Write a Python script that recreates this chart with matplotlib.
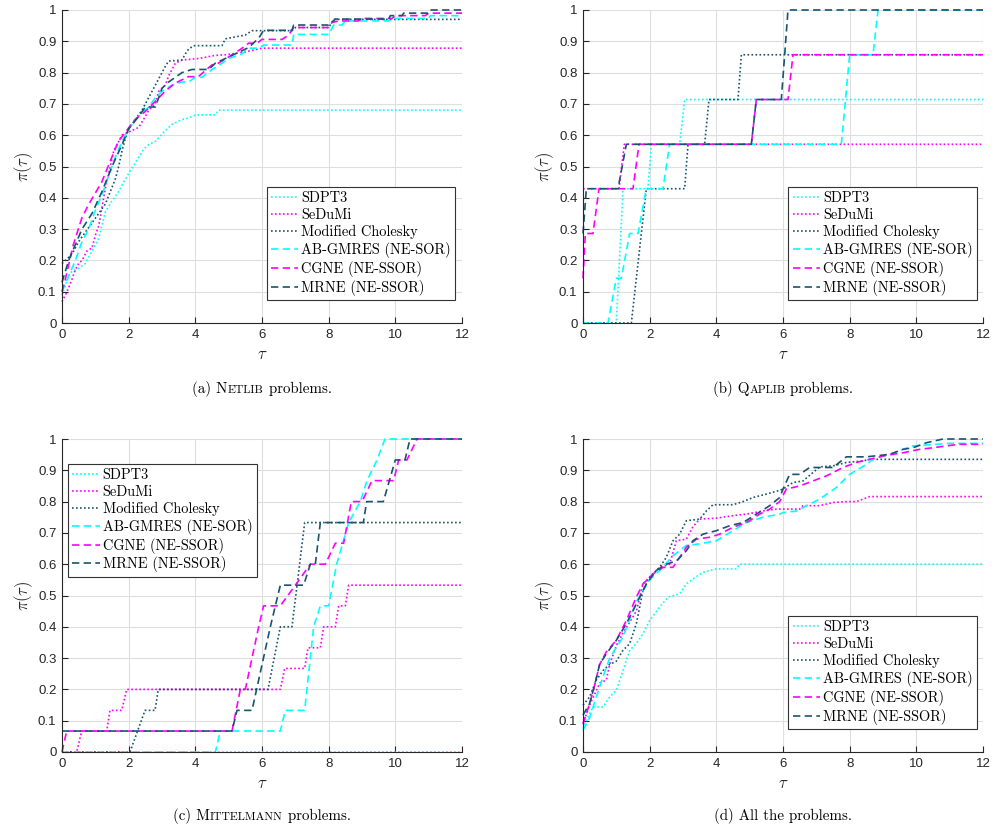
import matplotlib
matplotlib.use("Agg")
import matplotlib.pyplot as plt
from matplotlib.offsetbox import TextArea, HPacker, AnnotationBbox

plt.rcParams["mathtext.fontset"] = "cm"

# ---------------- data: (tau, rho) points
solvers = ["SDPT3", "SeDuMi", "Modified Cholesky",
           "AB-GMRES (NE-SOR)", "CGNE (NE-SSOR)", "MRNE (NE-SSOR)"]

# (a) Netlib
netlib_sdpt3 = [(0, 0.09), (0.1, 0.12), (0.2, 0.15), (0.3, 0.165), (0.5, 0.175), (0.7, 0.19),
                (0.9, 0.23), (1.1, 0.27), (1.3, 0.355), (1.5, 0.39), (1.7, 0.42), (1.9, 0.46),
                (2.1, 0.495), (2.3, 0.53), (2.45, 0.555), (2.6, 0.57), (2.8, 0.58), (3.1, 0.615),
                (3.3, 0.635), (3.6, 0.65), (3.8, 0.655), (4.0, 0.665), (4.6, 0.665), (4.7, 0.68),
                (12, 0.68)]
netlib_sedumi = [(0, 0.068), (0.15, 0.1), (0.3, 0.14), (0.4, 0.17), (0.5, 0.19), (0.6, 0.2),
                 (0.75, 0.23), (0.9, 0.24), (1.0, 0.28), (1.1, 0.31), (1.2, 0.37), (1.3, 0.43),
                 (1.45, 0.5), (1.55, 0.55), (1.7, 0.58), (1.8, 0.6), (2.0, 0.61), (2.3, 0.625),
                 (2.5, 0.66), (2.6, 0.68), (2.8, 0.7), (2.9, 0.74), (3.1, 0.76), (3.2, 0.79),
                 (3.4, 0.83), (3.6, 0.84), (4.1, 0.845), (4.6, 0.855), (4.9, 0.857), (5.5, 0.866),
                 (6.0, 0.878), (12, 0.878)]
netlib_cholesky = [(0, 0.19), (0.2, 0.21), (0.35, 0.23), (0.5, 0.26), (0.7, 0.29), (0.9, 0.32),
                   (1.1, 0.35), (1.3, 0.38), (1.45, 0.42), (1.6, 0.46), (1.7, 0.5), (1.8, 0.55),
                   (1.9, 0.59), (2.0, 0.62), (2.2, 0.65), (2.4, 0.68), (2.5, 0.7), (2.6, 0.72),
                   (2.75, 0.75), (2.9, 0.78), (3.0, 0.8), (3.1, 0.82), (3.2, 0.837), (3.6, 0.84),
                   (3.7, 0.86), (3.8, 0.875), (3.95, 0.886), (4.8, 0.886), (4.9, 0.908), (5.5, 0.92),
                   (5.7, 0.934), (6.9, 0.934), (7.0, 0.944), (8.0, 0.944), (8.15, 0.97), (12, 0.97)]
netlib_abgmres = [(0, 0.1), (0.2, 0.15), (0.4, 0.2), (0.6, 0.26), (0.8, 0.3), (1.0, 0.36),
                  (1.2, 0.41), (1.4, 0.47), (1.6, 0.53), (1.8, 0.58), (2.0, 0.62), (2.2, 0.65),
                  (2.4, 0.67), (2.6, 0.69), (2.8, 0.72), (3.0, 0.74), (3.3, 0.76), (3.6, 0.77),
                  (3.8, 0.77), (4.0, 0.785), (4.2, 0.785), (4.5, 0.81), (4.8, 0.83), (5.0, 0.845),
                  (5.4, 0.86), (5.6, 0.878), (5.9, 0.878), (6.05, 0.888), (6.9, 0.888), (6.95, 0.922),
                  (8.0, 0.922), (8.15, 0.952), (8.4, 0.952), (8.5, 0.965), (9.8, 0.965), (9.9, 0.973),
                  (11.0, 0.973), (11.05, 0.982), (12, 0.982)]
netlib_cgne = [(0, 0.1), (0.1, 0.14), (0.34, 0.25), (0.59, 0.334), (0.79, 0.377), (1.19, 0.45),
               (1.69, 0.58), (2.19, 0.65), (2.49, 0.675), (2.79, 0.707), (3.09, 0.74), (3.39, 0.766),
               (3.79, 0.787), (4.09, 0.787), (4.49, 0.824), (4.69, 0.83), (5.09, 0.856), (5.39, 0.877),
               (5.6, 0.894), (5.85, 0.894), (6.0, 0.906), (6.6, 0.906), (6.8, 0.92), (6.95, 0.944),
               (8.0, 0.944), (8.1, 0.96), (8.3, 0.965), (8.9, 0.965), (9.0, 0.973), (9.9, 0.973),
               (10.0, 0.982), (10.9, 0.982), (11.0, 0.99), (12, 0.99)]
netlib_mrne = [(0, 0.13), (0.2, 0.2), (0.4, 0.25), (0.6, 0.3), (0.9, 0.35), (1.2, 0.42), (1.5, 0.5),
               (1.8, 0.57), (2.0, 0.62), (2.3, 0.66), (2.5, 0.69), (2.8, 0.69), (3.0, 0.75),
               (3.2, 0.77), (3.6, 0.8), (3.9, 0.81), (4.4, 0.81), (4.6, 0.83), (5.2, 0.86), (5.6, 0.88),
               (5.9, 0.91), (6.05, 0.935), (6.9, 0.935), (6.95, 0.952), (8.0, 0.952), (8.2, 0.971),
               (9.8, 0.971), (9.85, 0.982), (10.2, 0.982), (10.25, 0.99), (11.0, 0.99), (11.05, 1.0),
               (12, 1.0)]

# (b) Qaplib
qaplib_sdpt3 = [(0, 0), (1.0, 0), (1.2, 0.429), (1.95, 0.429), (2.05, 0.571), (2.9, 0.571),
                (3.05, 0.714), (12, 0.714)]
qaplib_sedumi = [(0, 0.429), (1.08, 0.429), (1.24, 0.571), (12, 0.571)]
qaplib_cholesky = [(0, 0), (1.45, 0), (1.9, 0.429), (3.05, 0.429), (3.15, 0.571), (3.65, 0.571),
                   (3.78, 0.714), (4.65, 0.714), (4.75, 0.857), (12, 0.857)]
qaplib_abgmres = [(0, 0), (0.75, 0), (1.0, 0.143), (1.15, 0.143), (1.4, 0.286), (1.65, 0.286),
                  (1.9, 0.429), (2.4, 0.429), (2.6, 0.571), (7.75, 0.571), (8.0, 0.857),
                  (8.7, 0.857), (8.85, 1.0), (12, 1.0)]
qaplib_cgne = [(0, 0.143), (0.07, 0.286), (0.3, 0.286), (0.48, 0.429), (1.5, 0.429), (1.68, 0.571),
               (5.05, 0.571), (5.2, 0.714), (6.15, 0.714), (6.3, 0.857), (12, 0.857)]
qaplib_mrne = [(0, 0.286), (0.1, 0.429), (1.05, 0.429), (1.3, 0.571), (5.05, 0.571), (5.2, 0.714),
               (5.95, 0.714), (6.15, 1.0), (12, 1.0)]

# (c) Mittelmann
mittel_sdpt3 = [(0, 0), (12, 0)]
mittel_sedumi = [(0, 0), (0.44, 0), (0.59, 0.067), (1.34, 0.067), (1.44, 0.133), (1.79, 0.133),
                 (1.94, 0.2), (6.55, 0.2), (6.68, 0.267), (7.28, 0.267), (7.38, 0.333), (7.75, 0.333),
                 (7.85, 0.4), (8.2, 0.4), (8.3, 0.467), (8.5, 0.467), (8.6, 0.533), (12, 0.533)]
mittel_cholesky = [(0, 0), (2.04, 0), (2.49, 0.133), (2.79, 0.133), (2.89, 0.2), (6.18, 0.2),
                   (6.55, 0.4), (6.9, 0.4), (7.28, 0.733), (12, 0.733)]
mittel_abgmres = [(0, 0), (4.6, 0), (4.75, 0.067), (6.55, 0.067), (6.7, 0.133), (7.28, 0.133),
                  (7.55, 0.4), (7.75, 0.467), (8.0, 0.467), (8.24, 0.6), (8.6, 0.733), (8.95, 0.8),
                  (9.15, 0.867), (9.45, 0.933), (9.69, 1.0), (12, 1.0)]
mittel_cgne = [(0, 0), (0.14, 0.067), (5.1, 0.067), (5.35, 0.2), (5.5, 0.2), (5.9, 0.4),
               (6.05, 0.467), (6.55, 0.467), (7.0, 0.533), (7.45, 0.6), (7.9, 0.6), (8.2, 0.667),
               (8.45, 0.667), (8.68, 0.8), (9.0, 0.8), (9.3, 0.867), (9.95, 0.867), (10.1, 0.933),
               (10.35, 0.933), (10.65, 1.0), (12, 1.0)]
mittel_mrne = [(0, 0.067), (5.1, 0.067), (5.25, 0.133), (5.7, 0.133), (6.25, 0.4), (6.55, 0.533),
               (7.25, 0.533), (7.45, 0.6), (7.6, 0.6), (7.75, 0.733), (9.04, 0.733), (9.14, 0.8),
               (9.64, 0.8), (10.0, 0.933), (10.29, 0.933), (10.44, 1.0), (12, 1.0)]

# (d) all problems
all_sdpt3 = [(0, 0.075), (0.1, 0.1), (0.3, 0.144), (0.6, 0.144), (0.8, 0.176), (1.0, 0.197),
             (1.2, 0.26), (1.4, 0.325), (1.6, 0.346), (1.8, 0.378), (2.0, 0.42), (2.3, 0.463),
             (2.55, 0.495), (2.9, 0.505), (3.1, 0.537), (3.3, 0.553), (3.6, 0.574), (4.0, 0.585),
             (4.6, 0.585), (4.7, 0.6), (12, 0.6)]
all_sedumi = [(0, 0.09), (0.2, 0.15), (0.5, 0.22), (0.7, 0.23), (0.8, 0.28), (1.0, 0.34),
              (1.2, 0.38), (1.6, 0.45), (1.8, 0.537), (2.1, 0.57), (2.3, 0.59), (2.6, 0.6),
              (2.8, 0.675), (3.1, 0.68), (3.3, 0.72), (3.5, 0.744), (4.0, 0.747), (4.5, 0.755),
              (4.9, 0.76), (5.4, 0.77), (5.8, 0.776), (6.5, 0.776), (6.6, 0.787), (7.1, 0.787),
              (7.5, 0.797), (7.9, 0.8), (8.2, 0.8), (8.6, 0.816), (12, 0.816)]
all_cholesky = [(0, 0.15), (0.2, 0.176), (0.4, 0.23), (0.6, 0.26), (0.8, 0.28), (1.0, 0.29),
                (1.2, 0.325), (1.4, 0.346), (1.6, 0.41), (1.8, 0.516), (2.0, 0.558), (2.3, 0.59),
                (2.5, 0.622), (2.7, 0.675), (2.9, 0.696), (3.1, 0.739), (3.5, 0.744), (3.7, 0.77),
                (3.9, 0.79), (4.5, 0.79), (4.8, 0.8), (5.1, 0.813), (5.5, 0.824), (5.9, 0.836),
                (6.0, 0.84), (6.3, 0.861), (6.6, 0.866), (7.1, 0.911), (7.5, 0.914), (7.9, 0.925),
                (8.4, 0.93), (8.6, 0.935), (12, 0.935)]
all_abgmres = [(0, 0.07), (0.2, 0.11), (0.4, 0.176), (0.6, 0.24), (0.8, 0.3), (1.2, 0.367),
               (1.6, 0.48), (2.0, 0.55), (2.3, 0.58), (2.7, 0.627), (3.1, 0.66), (3.5, 0.665),
               (4.0, 0.675), (4.5, 0.707), (4.9, 0.733), (5.4, 0.75), (5.9, 0.76), (6.0, 0.765),
               (6.4, 0.77), (7.1, 0.808), (7.6, 0.845), (8.0, 0.887), (8.5, 0.919), (8.7, 0.935),
               (9.2, 0.951), (9.6, 0.967), (9.9, 0.978), (10.6, 0.983), (11.0, 0.986), (12, 0.986)]
all_cgne = [(0, 0.09), (0.2, 0.155), (0.34, 0.21), (0.5, 0.28), (0.7, 0.32), (1.0, 0.357),
            (1.3, 0.42), (1.6, 0.495), (1.8, 0.537), (2.1, 0.569), (2.4, 0.59), (2.7, 0.59),
            (2.9, 0.622), (3.1, 0.654), (3.4, 0.68), (3.8, 0.686), (4.1, 0.696), (4.5, 0.718),
            (4.9, 0.733), (5.3, 0.76), (5.6, 0.776), (5.9, 0.8), (6.1, 0.84), (6.5, 0.85),
            (6.9, 0.866), (7.3, 0.882), (7.8, 0.909), (8.2, 0.925), (8.6, 0.935), (9.0, 0.946),
            (9.6, 0.956), (10.1, 0.967), (10.5, 0.972), (10.9, 0.978), (11.3, 0.983), (12, 0.983)]
all_mrne = [(0, 0.118), (0.2, 0.155), (0.34, 0.21), (0.5, 0.28), (0.7, 0.314), (1.0, 0.357),
            (1.3, 0.41), (1.6, 0.473), (1.9, 0.537), (2.2, 0.58), (2.5, 0.6), (2.8, 0.61),
            (3.1, 0.643), (3.3, 0.675), (3.6, 0.696), (4.0, 0.707), (4.4, 0.723), (4.8, 0.733),
            (5.2, 0.76), (5.6, 0.787), (5.9, 0.813), (6.0, 0.84), (6.2, 0.887), (6.5, 0.887),
            (6.8, 0.909), (7.5, 0.909), (7.9, 0.943), (8.5, 0.943), (9.2, 0.951), (9.6, 0.967),
            (9.9, 0.972), (10.3, 0.988), (10.8, 1.0), (12, 1.0)]

x_ticks = [0, 2, 4, 6, 8, 10, 12]
y_ticks = [0, 0.1, 0.2, 0.3, 0.4, 0.5, 0.6, 0.7, 0.8, 0.9, 1]

# ---------------- styles
CYAN = "#00ffff"
MAGENTA = "#ff00ff"
DARK = "#17556e"
AXC = "#262626"
styles = [(CYAN, ":"), (MAGENTA, ":"), (DARK, ":"), (CYAN, "--"), (MAGENTA, "--"), (DARK, "--")]

fig = plt.figure(figsize=(9.92, 8.33), dpi=100)
W, H = 992, 833


def add_panel(left, top, curves, legend_loc, legend_anchor):
    ax = fig.add_axes([left / W, 1 - (top + 313) / H, 400 / W, 313 / H])
    for pts, (col, ls), name in zip(curves, styles, solvers):
        tau = [p[0] for p in pts]
        rho = [p[1] for p in pts]
        line, = ax.plot(tau, rho, color=col, lw=1.2, label=name, clip_on=False)
        if ls == ":":
            line.set_dashes([1.0, 1.4])
        else:
            line.set_dashes([4.4, 2.6])
    ax.set_xlim(0, 12)
    ax.set_ylim(0, 1)
    ax.set_xticks(x_ticks)
    ax.set_yticks(y_ticks)
    ax.set_xticklabels([str(t) for t in x_ticks])
    ax.set_yticklabels([f"{t:g}" for t in y_ticks])
    ax.grid(True, color="#dedede", lw=0.8)
    ax.set_axisbelow(True)
    for s in ["top", "right"]:
        ax.spines[s].set_visible(False)
    for s in ["left", "bottom"]:
        ax.spines[s].set_color(AXC)
        ax.spines[s].set_linewidth(0.8)
    ax.tick_params(direction="in", length=4, width=0.8, color=AXC, labelcolor=AXC,
                   labelsize=9.5, pad=4)
    for lab in ax.get_xticklabels() + ax.get_yticklabels():
        lab.set_fontfamily("Liberation Sans")
    ax.set_xlabel(r"$\tau$", fontsize=12, color=AXC, va="center")
    ax.xaxis.set_label_coords(0.5, -0.1)
    ax.set_ylabel(r"$\pi(\tau)$", fontsize=12, color=AXC, va="center")
    ax.yaxis.set_label_coords(-0.095, 0.5)
    leg = ax.legend(loc=legend_loc, bbox_to_anchor=legend_anchor, prop={"family": "cmr10", "size": 10.4},
                    frameon=True, fancybox=False, framealpha=1, edgecolor="#333333",
                    handlelength=1.9, handletextpad=0.2, labelspacing=0.2, borderpad=0.3,
                    borderaxespad=0)
    leg.get_frame().set_linewidth(0.8)
    return ax


def caption(xc, yc, pre, caps, post):
    big = dict(fontfamily="cmr10", fontsize=10.8, color="black")
    small = dict(fontfamily="cmr10", fontsize=8.4, color="black")
    parts = [TextArea(pre, textprops=big)]
    if caps:
        parts.append(TextArea(caps, textprops=small))
    parts.append(TextArea(post, textprops=big))
    box = HPacker(children=parts, align="baseline", pad=0, sep=0)
    ab = AnnotationBbox(box, (xc / W, 1 - yc / H), xycoords="figure fraction", frameon=False,
                        box_alignment=(0.5, 0.5), pad=0)
    fig.add_artist(ab)


add_panel(62, 10, [netlib_sdpt3, netlib_sedumi, netlib_cholesky, netlib_abgmres, netlib_cgne, netlib_mrne],
          "lower right", (0.983, 0.073))
add_panel(583, 10, [qaplib_sdpt3, qaplib_sedumi, qaplib_cholesky, qaplib_abgmres, qaplib_cgne, qaplib_mrne],
          "lower right", (0.985, 0.073))
add_panel(62, 439, [mittel_sdpt3, mittel_sedumi, mittel_cholesky, mittel_abgmres, mittel_cgne, mittel_mrne],
          "upper left", (0.015, 0.92))
add_panel(583, 439, [all_sdpt3, all_sedumi, all_cholesky, all_abgmres, all_cgne, all_mrne],
          "lower right", (0.985, 0.073))

caption(262, 389, "(a) N", "ETLIB", " problems.")
caption(783, 389, "(b) Q", "APLIB", " problems.")
caption(262, 816, "(c) M", "ITTELMANN", " problems.")
caption(783, 816, "(d) All the problems.", "", "")

fig.savefig("out.png", dpi=100)
